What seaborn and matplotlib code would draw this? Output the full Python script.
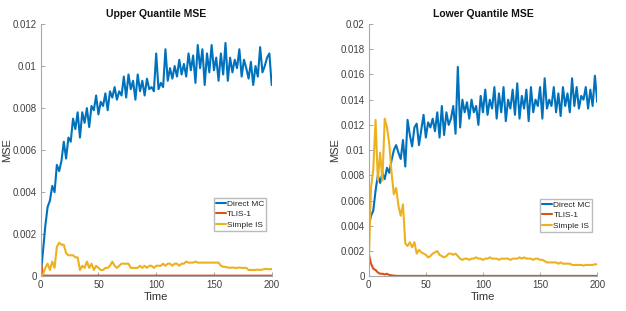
import matplotlib
matplotlib.use("Agg")
import matplotlib.pyplot as plt
import numpy as np
import pandas as pd
import seaborn as sns
from matplotlib.ticker import FuncFormatter

# time steps (every 2 units)
time = np.arange(0, 201, 2)

upper_mc = [
    0.0000, 0.0012, 0.0024, 0.0033, 0.0036, 0.0043, 0.0040, 0.0053, 0.0050, 0.0055,
    0.0064, 0.0056, 0.0066, 0.0064, 0.0075, 0.0070, 0.0078, 0.0066, 0.0078, 0.0073,
    0.0080, 0.0071, 0.0081, 0.0079, 0.0086, 0.0077, 0.0083, 0.0081, 0.0087, 0.0079,
    0.0088, 0.0085, 0.0090, 0.0084, 0.0088, 0.0086, 0.0095, 0.0085, 0.0096, 0.0089,
    0.0093, 0.0084, 0.0096, 0.0088, 0.0093, 0.0086, 0.0094, 0.0089, 0.0090, 0.0088,
    0.0106, 0.0089, 0.0092, 0.0090, 0.0108, 0.0093, 0.0099, 0.0094, 0.0100, 0.0095,
    0.0103, 0.0096, 0.0101, 0.0095, 0.0106, 0.0098, 0.0105, 0.0092, 0.0110, 0.0099,
    0.0108, 0.0091, 0.0106, 0.0097, 0.0110, 0.0098, 0.0104, 0.0093, 0.0106, 0.0096,
    0.0111, 0.0093, 0.0104, 0.0097, 0.0103, 0.0099, 0.0108, 0.0095, 0.0103, 0.0099,
    0.0094, 0.0102, 0.0091, 0.0100, 0.0095, 0.0109, 0.0097, 0.0100, 0.0104, 0.0106,
    0.0091,
]
upper_tlis = [
    0.00075, 0.00005, 0.00003, 0.00003, 0.00003, 0.00003, 0.00003, 0.00003, 0.00003, 0.00003,
    0.00003, 0.00003, 0.00003, 0.00003, 0.00003, 0.00003, 0.00003, 0.00003, 0.00003, 0.00003,
    0.00003, 0.00003, 0.00003, 0.00003, 0.00003, 0.00003, 0.00003, 0.00003, 0.00003, 0.00003,
    0.00003, 0.00003, 0.00003, 0.00003, 0.00003, 0.00003, 0.00003, 0.00003, 0.00003, 0.00003,
    0.00003, 0.00003, 0.00003, 0.00003, 0.00003, 0.00003, 0.00003, 0.00003, 0.00003, 0.00003,
    0.00003, 0.00003, 0.00003, 0.00003, 0.00003, 0.00003, 0.00003, 0.00003, 0.00003, 0.00003,
    0.00003, 0.00003, 0.00003, 0.00003, 0.00003, 0.00003, 0.00003, 0.00003, 0.00003, 0.00003,
    0.00003, 0.00003, 0.00003, 0.00003, 0.00003, 0.00003, 0.00003, 0.00003, 0.00003, 0.00003,
    0.00003, 0.00003, 0.00003, 0.00003, 0.00003, 0.00003, 0.00003, 0.00003, 0.00003, 0.00003,
    0.00003, 0.00003, 0.00003, 0.00003, 0.00003, 0.00003, 0.00003, 0.00003, 0.00003, 0.00003,
    0.00003,
]
upper_is = [
    0.0000, 0.0001, 0.0004, 0.0006, 0.0003, 0.0007, 0.0004, 0.0014, 0.0016, 0.0015,
    0.0015, 0.0011, 0.0010, 0.0010, 0.0010, 0.0009, 0.0009, 0.0003, 0.0005, 0.0004,
    0.0007, 0.0004, 0.0006, 0.0003, 0.0005, 0.0004, 0.0003, 0.0003, 0.0004, 0.0004,
    0.0005, 0.0007, 0.0005, 0.0004, 0.0005, 0.0006, 0.0006, 0.0006, 0.0006, 0.0004,
    0.0004, 0.0004, 0.0004, 0.0005, 0.0004, 0.0005, 0.0004, 0.0005, 0.0005, 0.0004,
    0.0005, 0.0005, 0.0005, 0.0006, 0.0005, 0.0006, 0.0006, 0.0005, 0.0006, 0.0006,
    0.0005, 0.0006, 0.0006, 0.0007, 0.00065, 0.00065, 0.00065, 0.0007, 0.00065, 0.00065,
    0.00065, 0.00065, 0.00065, 0.00065, 0.00065, 0.00065, 0.00065, 0.00065, 0.0005, 0.00045,
    0.00045, 0.00042, 0.0004, 0.00042, 0.0004, 0.0004, 0.00042, 0.0004, 0.0004, 0.0004,
    0.0003, 0.0003, 0.0003, 0.0003, 0.00032, 0.0003, 0.00032, 0.00035, 0.00035, 0.00033,
    0.00035,
]

lower_mc = [
    0.0039, 0.0048, 0.0052, 0.0068, 0.0080, 0.0074, 0.0082, 0.0077, 0.0086, 0.0082,
    0.0092, 0.0100, 0.0104, 0.0098, 0.0093, 0.0108, 0.0087, 0.0124, 0.0112, 0.0103,
    0.0118, 0.0121, 0.0104, 0.0116, 0.0128, 0.0110, 0.0122, 0.0118, 0.0125, 0.0115,
    0.0130, 0.0110, 0.0135, 0.0112, 0.0130, 0.0120, 0.0125, 0.0135, 0.0113, 0.0166,
    0.0118, 0.0140, 0.0130, 0.0138, 0.0125, 0.0140, 0.0130, 0.0135, 0.0120, 0.0143,
    0.0130, 0.0148, 0.0128, 0.0140, 0.0133, 0.0150, 0.0125, 0.0145, 0.0130, 0.0150,
    0.0123, 0.0140, 0.0133, 0.0148, 0.0128, 0.0153, 0.0125, 0.0143, 0.0133, 0.0148,
    0.0123, 0.0150, 0.0130, 0.0140, 0.0135, 0.0150, 0.0125, 0.0157, 0.0133, 0.0140,
    0.0135, 0.0150, 0.0130, 0.0145, 0.0127, 0.0150, 0.0135, 0.0145, 0.0130, 0.0157,
    0.0135, 0.0150, 0.0133, 0.0143, 0.0140, 0.0150, 0.0133, 0.0148, 0.0135, 0.0159,
    0.0138,
]
lower_tlis = [
    0.0018, 0.0010, 0.0006, 0.0005, 0.0003, 0.0002, 0.0002, 0.00015, 0.0002, 0.0001,
    0.00008, 0.00005, 0.00004, 0.00003, 0.00003, 0.00003, 0.00003, 0.00003, 0.00003, 0.00003,
    0.00003, 0.00003, 0.00003, 0.00003, 0.00003, 0.00003, 0.00003, 0.00003, 0.00003, 0.00003,
    0.00003, 0.00003, 0.00003, 0.00003, 0.00003, 0.00003, 0.00003, 0.00003, 0.00003, 0.00003,
    0.00003, 0.00003, 0.00003, 0.00003, 0.00003, 0.00003, 0.00003, 0.00003, 0.00003, 0.00003,
    0.00003, 0.00003, 0.00003, 0.00003, 0.00003, 0.00003, 0.00003, 0.00003, 0.00003, 0.00003,
    0.00003, 0.00003, 0.00003, 0.00003, 0.00003, 0.00003, 0.00003, 0.00003, 0.00003, 0.00003,
    0.00003, 0.00003, 0.00003, 0.00003, 0.00003, 0.00003, 0.00003, 0.00003, 0.00003, 0.00003,
    0.00003, 0.00003, 0.00003, 0.00003, 0.00003, 0.00003, 0.00003, 0.00003, 0.00003, 0.00003,
    0.00003, 0.00003, 0.00003, 0.00003, 0.00003, 0.00003, 0.00003, 0.00003, 0.00003, 0.00003,
    0.00003,
]
lower_is = [
    0.0009, 0.0070, 0.0085, 0.0124, 0.0076, 0.0098, 0.0076, 0.0125, 0.0118, 0.0105,
    0.0082, 0.0065, 0.0070, 0.0056, 0.0048, 0.0057, 0.0026, 0.0024, 0.0027, 0.0023,
    0.0027, 0.0018, 0.0021, 0.0019, 0.0018, 0.0017, 0.0015, 0.0016, 0.0018, 0.0019,
    0.0020, 0.0017, 0.0016, 0.0015, 0.0016, 0.0018, 0.0018, 0.0017, 0.0018, 0.0016,
    0.0014, 0.0013, 0.0014, 0.0014, 0.0013, 0.0014, 0.0014, 0.0015, 0.0014, 0.0014,
    0.0013, 0.0014, 0.0014, 0.0015, 0.0014, 0.0014, 0.0014, 0.0013, 0.0014, 0.0014,
    0.0014, 0.0014, 0.0013, 0.0014, 0.0014, 0.0014, 0.0015, 0.0014, 0.0015, 0.0014,
    0.0014, 0.0014, 0.0013, 0.0014, 0.0014, 0.0013, 0.0013, 0.0012, 0.0011, 0.0011,
    0.0011, 0.0011, 0.0011, 0.0010, 0.0011, 0.0010, 0.0010, 0.0010, 0.0010, 0.0009,
    0.0009, 0.0009, 0.0009, 0.0009, 0.00085, 0.0009, 0.0009, 0.0009, 0.0009, 0.00095,
    0.00095,
]

methods = ["Direct MC", "TLIS-1", "Simple IS"]
colors = ["#0072BD", "#D95319", "#EDB120"]

sns.set_style("ticks")
plt.rcParams["font.family"] = ["Liberation Sans", "DejaVu Sans"]

fig = plt.figure(figsize=(6.26, 3.11), dpi=100)
ax1 = fig.add_axes([0.065, 0.1116, 0.369, 0.8112])
ax2 = fig.add_axes([0.589, 0.1116, 0.365, 0.8112])

panels = [
    (ax1, "Upper Quantile MSE", [upper_mc, upper_tlis, upper_is], 0.012, 0.002, (0.975, 0.31), -0.124),
    (ax2, "Lower Quantile MSE", [lower_mc, lower_tlis, lower_is], 0.02, 0.002, (0.979, 0.306), -0.127),
]

for ax, title, series, ymax, ystep, anchor, ylab_x in panels:
    for name, vals, col in zip(methods, series, colors):
        sns.lineplot(x=time, y=vals, ax=ax, color=col, linewidth=1.5, label=name)
    ax.set_xlim(0, 200)
    ax.set_ylim(0, ymax)
    ax.set_xticks([0, 50, 100, 150, 200])
    ax.set_yticks(np.arange(0, ymax + ystep / 2, ystep))
    ax.yaxis.set_major_formatter(FuncFormatter(lambda v, p: "%g" % round(v, 6)))
    ax.set_title(title, fontsize=7.5, fontweight="bold", color="#111111", pad=5)
    ax.set_xlabel("Time", fontsize=8, color="#333333", labelpad=1)
    ax.set_ylabel("MSE", fontsize=8, color="#333333")
    ax.yaxis.set_label_coords(ylab_x, 0.5)
    ax.tick_params(direction="in", length=3, width=0.6, color="#999999",
                   labelsize=7, labelcolor="#404040", pad=3)
    for s in ["top", "right"]:
        ax.spines[s].set_visible(False)
    for s in ["left", "bottom"]:
        ax.spines[s].set_color("#a8a8a8")
        ax.spines[s].set_linewidth(0.8)
    ax.legend(loc="upper right", bbox_to_anchor=anchor, fontsize=6,
              handlelength=1.2, handletextpad=0.15, borderpad=0.2,
              labelspacing=0.35, fancybox=False, edgecolor="#bbbbbb",
              framealpha=1, borderaxespad=0)

fig.savefig("out.png", dpi=100)
